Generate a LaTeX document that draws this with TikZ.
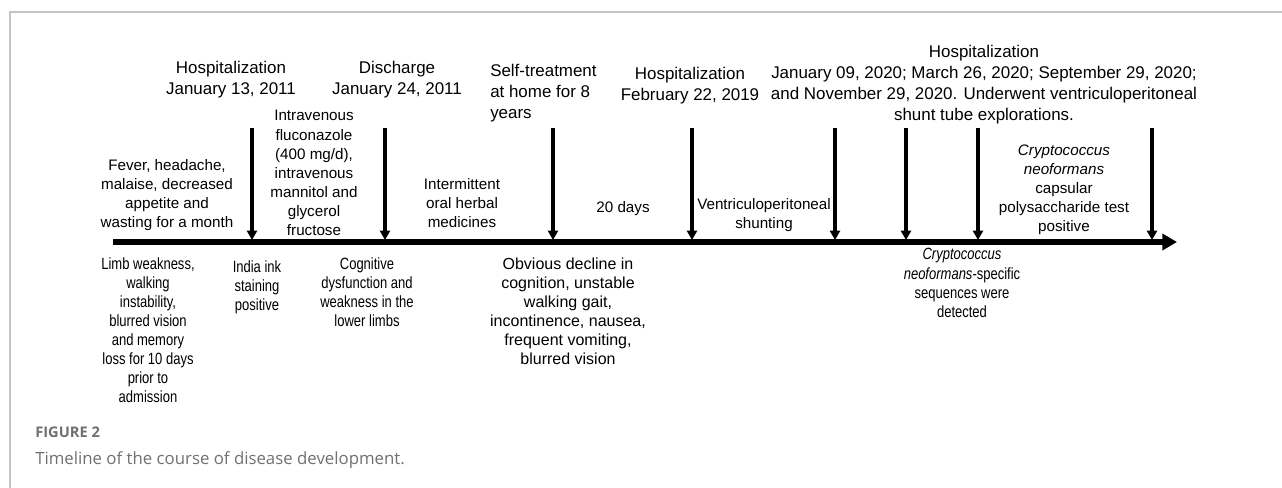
\documentclass[tikz,border=0pt]{standalone}
\usepackage{fontspec}
\setmainfont{Liberation Sans}
\newfontfamily\narrowfont[FakeStretch=0.8]{Liberation Sans}
\newfontfamily\capfont{Open Sans}
\usetikzlibrary{arrows.meta,positioning}
\definecolor{framegray}{HTML}{C4C4C4}
\definecolor{capgray}{HTML}{707070}

\begin{document}
\begin{tikzpicture}[x=0.75pt,y=-0.75pt,
    head/.style={font=\fontsize{12.7}{15.8}\selectfont,align=center,inner sep=0pt},
    note/.style={font=\fontsize{11.4}{14.3}\selectfont,align=center,inner sep=0pt},
    narrow/.style={font=\narrowfont\fontsize{12.2}{14.3}\selectfont,align=center,inner sep=0pt},
    event/.style={line width=2.6pt,-{Triangle[width=7.5pt,length=7pt]}},
    axis/.style={line width=3.8pt,-{Triangle[width=12pt,length=11pt]}}]
  \useasboundingbox (0,0) rectangle (1282,488);

  % card frame
  \draw[framegray,line width=1.1pt] (1282,12) -- (10,12) -- (10,488);

  % time axis and events
  \coordinate (start) at (113,242);
  \coordinate (end) at (1177,242);
  \draw[axis] (start) -- (end);
  \foreach \x [count=\i] in {252,385,553,692,835,906,978,1152} {
    \coordinate (t\i) at (\x,128);
    \coordinate (b\i) at (\x,240);
    \draw[event] (t\i) -- (b\i);
  }

  % dates
  \node[head] (hosp1) at (231,80) {Hospitalization\\January 13, 2011};
  \node[head] (disch) at (397,80) {Discharge\\January 24, 2011};
  \node[head,align=left,anchor=west] (self) at (490,93) {Self-treatment\\at home for 8\\years};
  \node[head] (hosp2) at (690,86) {Hospitalization\\February 22, 2019};
  \node[head] (hosp3) at (984,85) {Hospitalization\\January 09, 2020; March 26, 2020; September 29, 2020;\\and November 29, 2020. Underwent ventriculoperitoneal\\shunt tube explorations.};

  % above the axis
  \node[note] (fever) at (167,195) {Fever, headache,\\malaise, decreased\\appetite and\\wasting for a month};
  \node[note] (iv) at (314,173) {Intravenous\\fluconazole\\(400 mg/d),\\intravenous\\mannitol and\\glycerol\\fructose};
  \node[note] (herb) at (462,203) {Intermittent\\oral herbal\\medicines};
  \node[note] (days) at (623,209) {20 days};
  \node[note] (vps) at (764,215) {Ventriculoperitoneal\\shunting};
  \node[note] (crag) at (1064,190) {\textit{Cryptococcus}\\\textit{neoformans}\\capsular\\polysaccharide test\\positive};

  % below the axis
  \node[narrow] (limb) at (148,330) {Limb weakness,\\walking\\instability,\\blurred vision\\and memory\\loss for 10 days\\prior to\\admission};
  \node[narrow] (ink) at (257,287) {India ink\\staining\\positive};
  \node[narrow] (cog) at (367,292) {Cognitive\\dysfunction and\\weakness in the\\lower limbs};
  \node[note,font=\fontsize{12}{14.3}\selectfont] (decl) at (568,311) {Obvious decline in\\cognition, unstable\\walking gait,\\incontinence, nausea,\\frequent vomiting,\\blurred vision};
  \node[narrow] (seq) at (962,283) {\textit{Cryptococcus}\\\textit{neoformans}-specific\\sequences were\\detected};

  % caption
  \node[anchor=base west,inner sep=0pt,text=capgray,font=\capfont\bfseries\fontsize{11}{13}\selectfont] (fig) at (35,437) {FIGURE 2};
  \node[anchor=base west,inner sep=0pt,text=capgray,font=\capfont\fontsize{12.6}{15}\selectfont] (cap) at (35,464) {Timeline of the course of disease development.};
\end{tikzpicture}
\end{document}
